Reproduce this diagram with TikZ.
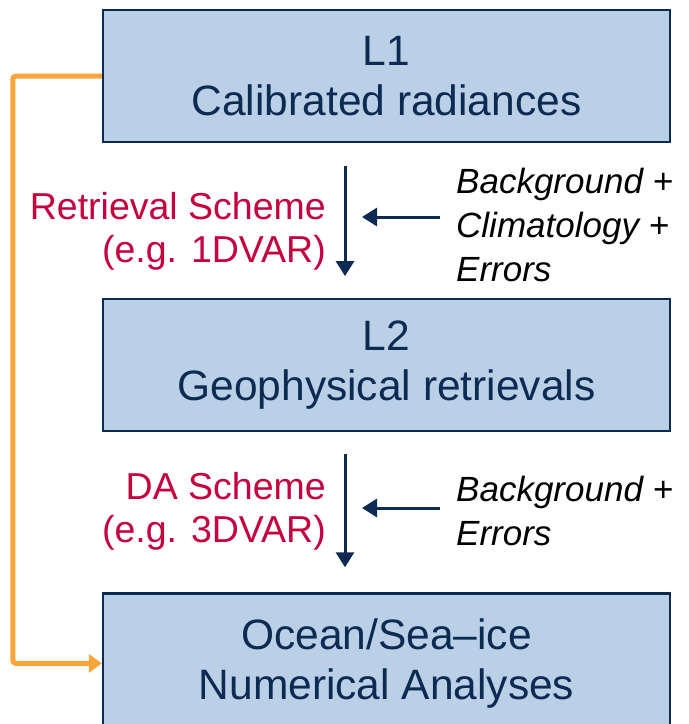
\documentclass[tikz,border=0pt]{standalone}
\usepackage{fontspec}
\setmainfont{Liberation Sans}
\usetikzlibrary{arrows.meta,positioning}

\definecolor{boxfill}{HTML}{B9D0E6}
\definecolor{navy}{HTML}{0C2A52}
\definecolor{schemered}{HTML}{C4003E}
\definecolor{feedorange}{HTML}{FAA53C}

\begin{document}
\begin{tikzpicture}[
  x=1pt, y=-1pt,
  node distance=155pt,
  level/.style={draw=navy, line width=2.2pt, fill=boxfill, text=navy, align=center, minimum width=567pt, minimum height=132pt, font=\fontsize{42.5}{50}\selectfont},
  scheme/.style={text=schemered, align=right, inner sep=0pt, font=\fontsize{37.5}{43}\selectfont},
  prior/.style={text=black, align=left, inner sep=0pt, font=\fontsize{35}{44}\selectfont\itshape},
  arrow/.style={-{Triangle[length=15pt,width=18pt]}, draw=navy, line width=3pt},
  feed/.style={-{Triangle[length=13pt,width=18pt]}, draw=feedorange, line width=5pt, rounded corners=3pt}
]
\useasboundingbox (0,0) rectangle (689,724);

\node[level] (l1) at (386.5,76) {L1\\Calibrated radiances};
\node[level, below=of l1] (l2) {L2\\Geophysical retrievals};
\node[level, below=160pt of l2, minimum height=140pt] (ana) {Ocean/Sea--ice\\Numerical Analyses};

% level-to-level steps
\coordinate (v1a) at ([xshift=-41.5pt, yshift=-23pt]l1.south);
\coordinate (v1b) at ([xshift=-41.5pt, yshift=22pt]l2.north);
\coordinate (v2a) at ([xshift=-41.5pt, yshift=-22pt]l2.south);
\coordinate (v2b) at ([xshift=-41.5pt, yshift=25pt]ana.north);

\node[scheme, anchor=east] (ret) at (326,231) {Retrieval Scheme\\(e.g. 1DVAR)};
\node[scheme, anchor=east] (da) at (326,511) {DA Scheme\\(e.g. 3DVAR)};
\node[prior, anchor=west] (bg1) at (456,225) {Background +\\Climatology +\\Errors};
\node[prior, anchor=west] (bg2) at (456,511) {Background +\\Errors};

\draw[arrow] (v1a) -- (v1b);
\draw[arrow] (v2a) -- (v2b);
\draw[arrow, shorten <=16pt, shorten >=17pt] ([yshift=8pt]bg1.west) -- ([yshift=8pt]bg1.west -| v1a);
\draw[arrow, shorten <=16pt, shorten >=17pt] ([yshift=3pt]bg2.west) -- ([yshift=3pt]bg2.west -| v2a);

% direct use of L1
\draw[feed] (l1.west) -- ++(-89,0) |- (ana.west);
\end{tikzpicture}
\end{document}
